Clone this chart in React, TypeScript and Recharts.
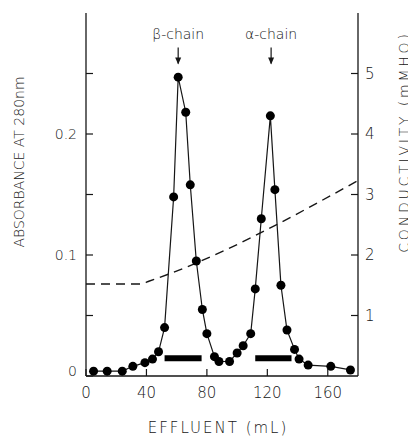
import { ComposedChart, Line, XAxis, YAxis, ReferenceDot } from 'recharts'

// fractions: effluent volume (mL) and absorbance at 280 nm
const effluent = [5, 14, 24, 31, 39, 44, 48, 52, 58, 61, 66, 69, 73, 77, 80, 85, 88, 95, 100, 104, 109, 112, 116, 122, 125, 129, 133, 138, 141, 147, 162, 175]
const absorbance = [0.004, 0.004, 0.004, 0.008, 0.011, 0.014, 0.02, 0.04, 0.148, 0.247, 0.218, 0.158, 0.095, 0.055, 0.035, 0.016, 0.012, 0.012, 0.019, 0.025, 0.035, 0.072, 0.13, 0.215, 0.154, 0.075, 0.038, 0.022, 0.014, 0.009, 0.008, 0.005]

// salt gradient (right axis)
const gradientEffluent = [0, 36, 42, 180]
const conductivity = [1.52, 1.52, 1.57, 3.23]

// pooled fractions (black bars)
const betaPool = [52, 76.5]
const alphaPool = [112, 136]
const poolLevel = 0.0146

const xTicks = [0, 40, 80, 120, 160]
const leftTicks = [0, 0.05, 0.1, 0.15, 0.2, 0.25]
const leftLabels = [0, 0.1, 0.2]
const rightTicks = [1, 2, 3, 4, 5]

const peaks = [
  { label: 'β-chain', x: 61, y: 0.283 },
  { label: 'α-chain', x: 122.5, y: 0.283 },
]

const INK = '#161616'
const FONT = '"DejaVu Sans", sans-serif'

const profile = effluent.map((x, i) => ({ x, a: absorbance[i] }))
const gradient = gradientEffluent.map((x, i) => ({ x, c: conductivity[i] }))
const betaBar = betaPool.map(x => ({ x, a: poolLevel }))
const alphaBar = alphaPool.map(x => ({ x, a: poolLevel }))

const textStyle = { fontFamily: FONT, fontSize: 14, fontWeight: 200, fill: INK }

function LeftTick({ x, y, payload }: any) {
  const v = payload.value
  return (
    <g>
      <line x1={x} x2={x + 7} y1={y} y2={y} stroke={INK} strokeWidth={1.2} />
      {leftLabels.includes(v) && (
        <text x={x - 9} y={v === 0 ? y - 5 : y} textAnchor="end" dominantBaseline="central" style={textStyle}>
          {v === 0 ? '0' : v.toFixed(1)}
        </text>
      )}
    </g>
  )
}

function RightTick({ x, y, payload }: any) {
  return (
    <g>
      <line x1={x - 7} x2={x} y1={y} y2={y} stroke={INK} strokeWidth={1.2} />
      <text x={x + 7} y={y} textAnchor="start" dominantBaseline="central" style={{ ...textStyle, fontSize: 15 }}>
        {payload.value}
      </text>
    </g>
  )
}

function BottomTick({ x, y, payload }: any) {
  return (
    <g>
      <line x1={x} x2={x} y1={y - 7} y2={y} stroke={INK} strokeWidth={1.2} />
      <text x={x} y={y + 17} textAnchor="middle" dominantBaseline="central" style={{ ...textStyle, fontSize: 15 }}>
        {payload.value}
      </text>
    </g>
  )
}

function TopTick({ x, y }: any) {
  return <line x1={x} x2={x} y1={y} y2={y + 7} stroke={INK} strokeWidth={1.2} />
}

function PeakLabel({ viewBox, text }: any) {
  const { x, y } = viewBox
  return (
    <g>
      <text x={x} y={y} textAnchor="middle" dominantBaseline="central" style={textStyle}>
        {text}
      </text>
      <line x1={x} x2={x} y1={y + 14} y2={y + 30} stroke={INK} strokeWidth={1.2} />
      <path d={`M${x - 3},${y + 24} L${x},${y + 31} L${x + 3},${y + 24} Z`} fill={INK} />
    </g>
  )
}

export default function App() {
  return (
    <ComposedChart width={408} height={429} margin={{ top: 5, right: 8, bottom: 6, left: 8 }}>
      <XAxis
        type="number"
        dataKey="x"
        domain={[0, 180]}
        ticks={xTicks}
        allowDataOverflow
        height={55}
        axisLine={{ stroke: INK, strokeWidth: 1.3 }}
        tickLine={false}
        tickSize={0}
        tickMargin={0}
        tick={<BottomTick />}
        label={(p: any) => (
          <text
            x={p.viewBox.x + p.viewBox.width / 2 - 4}
            y={p.viewBox.y + 52}
            textAnchor="middle"
            dominantBaseline="central"
            style={{ ...textStyle, fontSize: 15, letterSpacing: 2 }}
          >
            EFFLUENT (mL)
          </text>
        )}
      />
      <XAxis
        xAxisId="top"
        orientation="top"
        type="number"
        dataKey="x"
        domain={[0, 180]}
        ticks={xTicks}
        height={0}
        axisLine={{ stroke: INK, strokeWidth: 1.3 }}
        tickLine={false}
        tickSize={0}
        tickMargin={0}
        tick={<TopTick />}
      />
      <YAxis
        yAxisId="left"
        domain={[0, 0.3]}
        ticks={leftTicks}
        width={70}
        axisLine={{ stroke: INK, strokeWidth: 1.3 }}
        tickLine={false}
        tickSize={0}
        tickMargin={0}
        tick={<LeftTick />}
        label={(p: any) => {
          const cx = p.viewBox.x + 3
          const cy = p.viewBox.y + 149
          return (
            <text
              x={cx}
              y={cy}
              transform={`rotate(-90, ${cx}, ${cy})`}
              textAnchor="middle"
              dominantBaseline="central"
              style={{ ...textStyle, fontSize: 14 }}
            >
              ABSORBANCE AT 280nm
            </text>
          )
        }}
      />
      <YAxis
        yAxisId="right"
        orientation="right"
        domain={[0, 6]}
        ticks={rightTicks}
        width={50}
        axisLine={{ stroke: INK, strokeWidth: 1.3 }}
        tickLine={false}
        tickSize={0}
        tickMargin={0}
        tick={<RightTick />}
        label={(p: any) => {
          const cx = p.viewBox.x + 46
          const cy = p.viewBox.y + 129
          return (
            <text
              x={cx}
              y={cy}
              transform={`rotate(-90, ${cx}, ${cy})`}
              textAnchor="middle"
              dominantBaseline="central"
              style={{ ...textStyle, fontSize: 14, letterSpacing: 2.8 }}
            >
              CONDUCTIVITY (mMHO)
            </text>
          )
        }}
      />

      <Line
        yAxisId="right"
        data={gradient}
        dataKey="c"
        type="monotone"
        stroke={INK}
        strokeWidth={1.4}
        strokeDasharray="9 6"
        dot={false}
        isAnimationActive={false}
      />
      <Line
        yAxisId="left"
        data={betaBar}
        dataKey="a"
        stroke="#000"
        strokeWidth={6}
        dot={false}
        isAnimationActive={false}
      />
      <Line
        yAxisId="left"
        data={alphaBar}
        dataKey="a"
        stroke="#000"
        strokeWidth={6}
        dot={false}
        isAnimationActive={false}
      />
      <Line
        yAxisId="left"
        data={profile}
        dataKey="a"
        type="linear"
        stroke={INK}
        strokeWidth={1.2}
        dot={{ r: 4.5, fill: '#000', stroke: '#000', strokeWidth: 0 }}
        isAnimationActive={false}
      />

      {peaks.map(p => (
        <ReferenceDot
          key={p.label}
          yAxisId="left"
          x={p.x}
          y={p.y}
          r={0}
          ifOverflow="visible"
          label={<PeakLabel text={p.label} />}
        />
      ))}
    </ComposedChart>
  )
}
